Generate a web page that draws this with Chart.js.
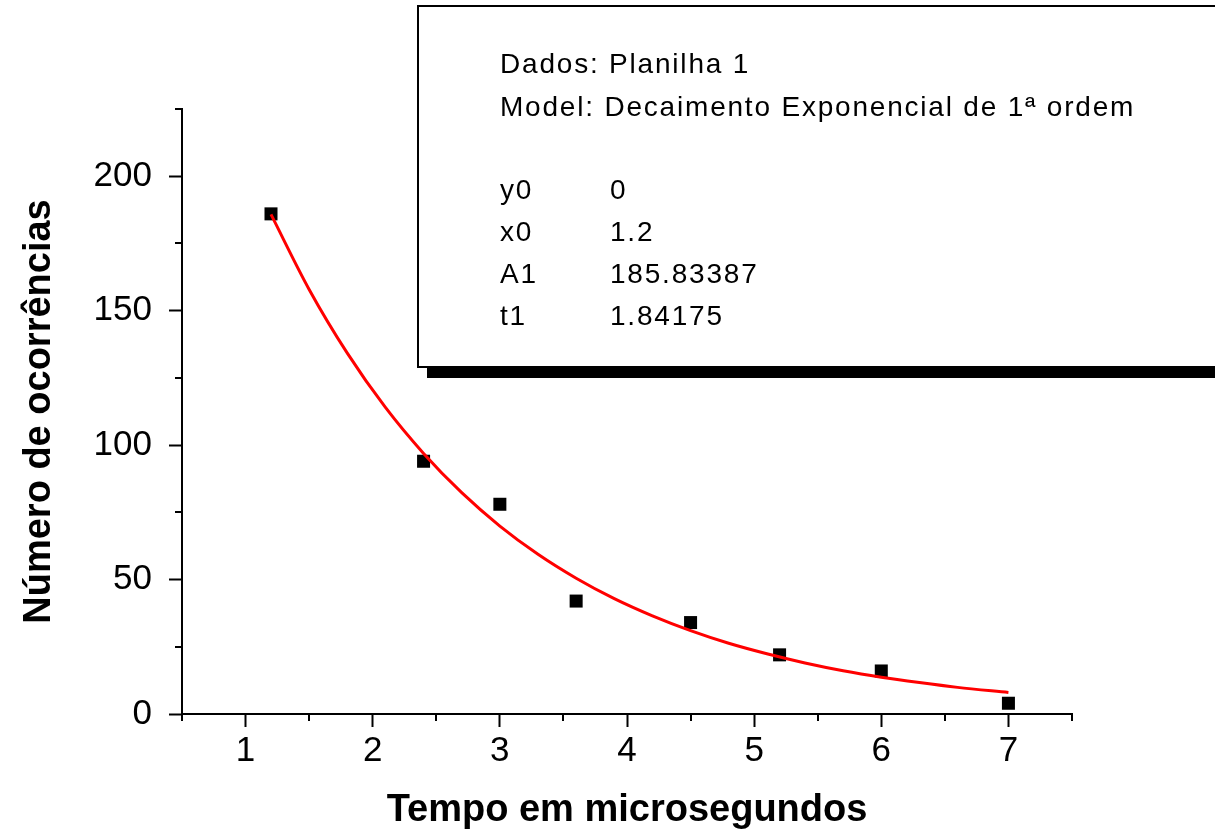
<!DOCTYPE html>
<html>
<head>
<meta charset="utf-8">
<script src="https://cdn.jsdelivr.net/npm/chart.js@4.4.1/dist/chart.umd.min.js"></script>
<style>
  html, body { margin: 0; padding: 0; background: #ffffff; }
  #wrap { width: 1215px; height: 833px; position: relative; }
</style>
</head>
<body>
<div id="wrap"><canvas id="c" width="1215" height="833"></canvas></div>
<script>
// ---- data ----
const dataX = [1.2, 2.4, 3.0, 3.6, 4.5, 5.2, 6.0, 7.0];
const dataY = [186, 94, 78, 42, 34, 22, 16, 4];

// fitted curve
const fitX = [1.2, 1.5, 1.8, 2.1, 2.4, 2.7, 3.0, 3.3, 3.6, 3.9, 4.2, 4.5, 4.8, 5.1, 5.4, 5.7, 6.0, 6.3, 6.6, 7.0];
const fitY = [185.8, 157.9, 134.2, 114.0, 96.9, 82.3, 69.9, 59.4, 50.5, 42.9, 36.5, 31.0, 26.3, 22.4, 19.0, 16.1, 13.7, 11.7, 9.9, 8.0];

const xTickValues = [1, 2, 3, 4, 5, 6, 7];
const yTickValues = [0, 50, 100, 150, 200];
const xMinorTicks = [0.5, 1.5, 2.5, 3.5, 4.5, 5.5, 6.5, 7.5];
const yMinorTicks = [25, 75, 125, 175, 225];

const xTitle = 'Tempo em microsegundos';
const yTitle = 'Número de ocorrências';

const boxHeader = ['Dados: Planilha 1', 'Model: Decaimento Exponencial de 1ª ordem'];
const paramNames = ['y0', 'x0', 'A1', 't1'];
const paramValues = ['0', '1.2', '185.83387', '1.84175'];

// ---- chart ----
const FONT = '"Liberation Sans", Arial, sans-serif';

const minorTicksPlugin = {
  id: 'minorTicks',
  afterDraw(chart) {
    const ctx = chart.ctx;
    const xs = chart.scales.x, ys = chart.scales.y;
    const area = chart.chartArea;
    ctx.save();
    ctx.strokeStyle = '#000';
    ctx.lineWidth = 2;
    ctx.beginPath();
    xMinorTicks.forEach(v => {
      const px = Math.round(xs.getPixelForValue(v));
      ctx.moveTo(px, area.bottom);
      ctx.lineTo(px, area.bottom + 7);
    });
    yMinorTicks.forEach(v => {
      const py = Math.round(ys.getPixelForValue(v));
      ctx.moveTo(area.left, py);
      ctx.lineTo(area.left - 7, py);
    });
    ctx.stroke();
    ctx.restore();
  }
};

const infoBoxPlugin = {
  id: 'infoBox',
  afterDraw(chart) {
    const ctx = chart.ctx;
    ctx.save();
    // shadow
    ctx.fillStyle = '#000';
    ctx.fillRect(427, 368, 820, 10);
    // box
    ctx.fillStyle = '#fff';
    ctx.fillRect(418, 6, 820, 361);
    ctx.strokeStyle = '#000';
    ctx.lineWidth = 2;
    ctx.strokeRect(418, 6, 820, 361);
    // text
    ctx.fillStyle = '#000';
    ctx.font = '28px ' + FONT;
    ctx.textBaseline = 'alphabetic';
    ctx.textAlign = 'left';
    if ('letterSpacing' in ctx) ctx.letterSpacing = '1.8px';
    const headerY = [73, 116];
    boxHeader.forEach((t, i) => ctx.fillText(t, 500, headerY[i]));
    const rowY = [199, 241, 283, 325];
    paramNames.forEach((t, i) => {
      ctx.fillText(t, 500, rowY[i]);
      ctx.fillText(paramValues[i], 610, rowY[i]);
    });
    ctx.restore();
  }
};

new Chart(document.getElementById('c'), {
  type: 'scatter',
  data: {
    datasets: [
      {
        label: 'fit',
        data: fitX.map((x, i) => ({ x: x, y: fitY[i] })),
        showLine: true,
        borderColor: '#ff0000',
        borderWidth: 3,
        pointRadius: 0,
        cubicInterpolationMode: 'monotone',
        order: 0
      },
      {
        label: 'data',
        data: dataX.map((x, i) => ({ x: x, y: dataY[i] })),
        showLine: false,
        pointStyle: 'rect',
        pointRadius: 9.2,
        backgroundColor: '#000',
        borderColor: '#000',
        borderWidth: 0,
        order: 1
      }
    ]
  },
  options: {
    responsive: false,
    animation: false,
    devicePixelRatio: 1,
    layout: { padding: { left: 0, right: 143, top: 109, bottom: 0 } },
    plugins: { legend: { display: false }, tooltip: { enabled: false } },
    scales: {
      x: {
        type: 'linear',
        min: 0.5,
        max: 7.5,
        afterBuildTicks: s => { s.ticks = xTickValues.map(v => ({ value: v })); },
        afterFit: s => { s.height = 119; },
        border: { display: true, color: '#000', width: 2 },
        grid: { drawOnChartArea: false, drawTicks: true, tickLength: 13, tickWidth: 2, tickColor: '#000', color: '#000' },
        ticks: { color: '#000', font: { family: FONT, size: 35 }, padding: 3, maxRotation: 0, autoSkip: false },
        title: { display: true, text: xTitle, color: '#000', font: { family: FONT, size: 38, weight: 'bold' }, padding: { top: 0, bottom: 0 } }
      },
      y: {
        type: 'linear',
        min: 0,
        max: 225,
        afterBuildTicks: s => { s.ticks = yTickValues.map(v => ({ value: v })); },
        afterFit: s => { s.width = 182; },
        border: { display: true, color: '#000', width: 2 },
        grid: { drawOnChartArea: false, drawTicks: true, tickLength: 13, tickWidth: 2, tickColor: '#000', color: '#000' },
        ticks: { color: '#000', font: { family: FONT, size: 35 }, padding: 17, autoSkip: false },
        title: { display: true, text: yTitle, color: '#000', font: { family: FONT, size: 38, weight: 'bold' }, padding: { top: 17, bottom: 0 } }
      }
    }
  },
  plugins: [minorTicksPlugin, infoBoxPlugin]
});
</script>
</body>
</html>
